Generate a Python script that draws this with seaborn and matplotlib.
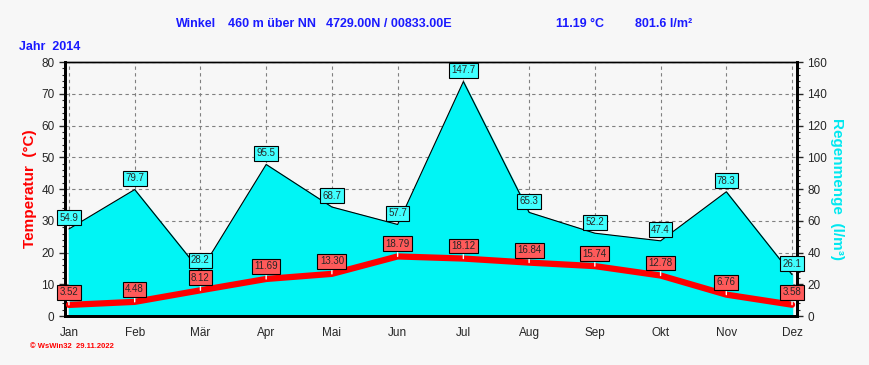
import numpy as np
import pandas as pd
import seaborn as sns
import matplotlib.pyplot as plt
from matplotlib.ticker import MultipleLocator

# monthly values, 2014
months = ['Jan', 'Feb', 'Mär', 'Apr', 'Mai', 'Jun', 'Jul', 'Aug', 'Sep', 'Okt', 'Nov', 'Dez']
temp = [3.52, 4.48, 8.12, 11.69, 13.30, 18.79, 18.12, 16.84, 15.74, 12.78, 6.76, 3.58]
rain = [54.9, 79.7, 28.2, 95.5, 68.7, 57.7, 147.7, 65.3, 52.2, 47.4, 78.3, 26.1]

df = pd.DataFrame({'month': months, 'temp': temp, 'rain': rain})
df['pos'] = range(len(df))

sns.set_style('white')
plt.rcParams['font.family'] = ['Liberation Sans', 'DejaVu Sans']

bg = '#f7f7f7'
fig = plt.figure(figsize=(8.69, 3.65), dpi=100, facecolor=bg)
ax2 = fig.add_axes([0.0748, 0.134, 0.8424, 0.696])
ax = ax2.twinx()
# temperature axis on the left, rain on the right
ax.yaxis.tick_left()
ax.yaxis.set_label_position('left')
ax2.yaxis.tick_right()
ax2.yaxis.set_label_position('right')
ax.set_zorder(ax2.get_zorder() + 1)
ax.patch.set_visible(False)
ax2.set_facecolor(bg)

# rain area
ax2.fill_between(df['pos'], df['rain'], 0, color='#00f5f5', zorder=2)
sns.lineplot(data=df, x='pos', y='rain', ax=ax2, color='black', lw=0.8, zorder=3)
ax2.set_ylim(0, 160)
ax2.set_xlim(-0.06, 11.076)
ax2.yaxis.set_major_locator(MultipleLocator(20))
ax2.yaxis.set_minor_locator(MultipleLocator(4))
ax2.grid(True, which='major', axis='both', color='#808080', ls=(0, (3, 3)), lw=0.8, zorder=0)
ax2.set_xticks(df['pos'])
ax2.set_xticklabels(months)
ax2.xaxis.set_minor_locator(MultipleLocator(0.25))
ax2.set_xlabel('')
ax2.set_ylabel('Regenmenge  (l/m³)', color='#00e8f0', fontsize=11, fontweight='bold',
               rotation=270, labelpad=12)

# temperature line
sns.lineplot(data=df, x='pos', y='temp', ax=ax, color='red', lw=4.5, zorder=4)
ax.set_ylim(0, 80)
ax.set_xlim(-0.06, 11.076)
ax.yaxis.set_major_locator(MultipleLocator(10))
ax.yaxis.set_minor_locator(MultipleLocator(2))
ax.set_xlabel('')
ax.set_ylabel('Temperatur  (°C)', color='red', fontsize=11, fontweight='bold', labelpad=3)

for a in (ax, ax2):
    a.tick_params(axis='both', which='major', labelsize=8.5, length=4, width=1, direction='out')
    a.tick_params(axis='both', which='minor', length=2, width=0.8, direction='out')
    for s in a.spines.values():
        s.set_color('black')
        s.set_linewidth(1)
    a.spines['left'].set_linewidth(2)
    a.spines['right'].set_linewidth(2)
    a.spines['bottom'].set_linewidth(2)
ax.tick_params(axis='x', which='both', bottom=False, labelbottom=False)

# value labels (all on the top axes so they sit above the spines)
for i, r in df.iterrows():
    ax.annotate(f"{r['rain']:.1f}", (r['pos'], r['rain']), xycoords=ax2.transData,
                xytext=(0, 8), textcoords='offset points',
                ha='center', va='center', fontsize=7, annotation_clip=False,
                bbox=dict(boxstyle='square,pad=0.25', fc='#40ffff', ec='black', lw=0.8), zorder=6)
    ax.annotate(f"{r['temp']:.2f}", (r['pos'], r['temp']), xytext=(0, 9), textcoords='offset points',
                ha='center', va='center', fontsize=7, annotation_clip=False,
                bbox=dict(boxstyle='square,pad=0.25', fc='#ff5a5a', ec='black', lw=0.8),
                arrowprops=dict(arrowstyle='-', color='white', lw=1, shrinkA=0, shrinkB=0), zorder=6)

# header texts
hdr = dict(color='#1a1aff', fontsize=9, fontweight='bold', va='center', ha='center')
fig.text(196 / 869, 1 - 24 / 365, 'Winkel', **hdr)
fig.text(272 / 869, 1 - 24 / 365, '460 m über NN', **hdr)
fig.text(389 / 869, 1 - 24 / 365, '4729.00N / 00833.00E', **hdr)
fig.text(580 / 869, 1 - 24 / 365, '11.19 °C', **hdr)
fig.text(664 / 869, 1 - 24 / 365, '801.6 l/m²', **hdr)
fig.text(19 / 869, 1 - 47 / 365, 'Jahr  2014', color='#1a1aff', fontsize=9, fontweight='bold', va='center')
fig.text(30 / 869, 1 - 347 / 365, '© WsWin32  29.11.2022', color='red', fontsize=5.5,
         fontweight='bold', va='center')

fig.savefig('out.png', dpi=100, facecolor=bg)
